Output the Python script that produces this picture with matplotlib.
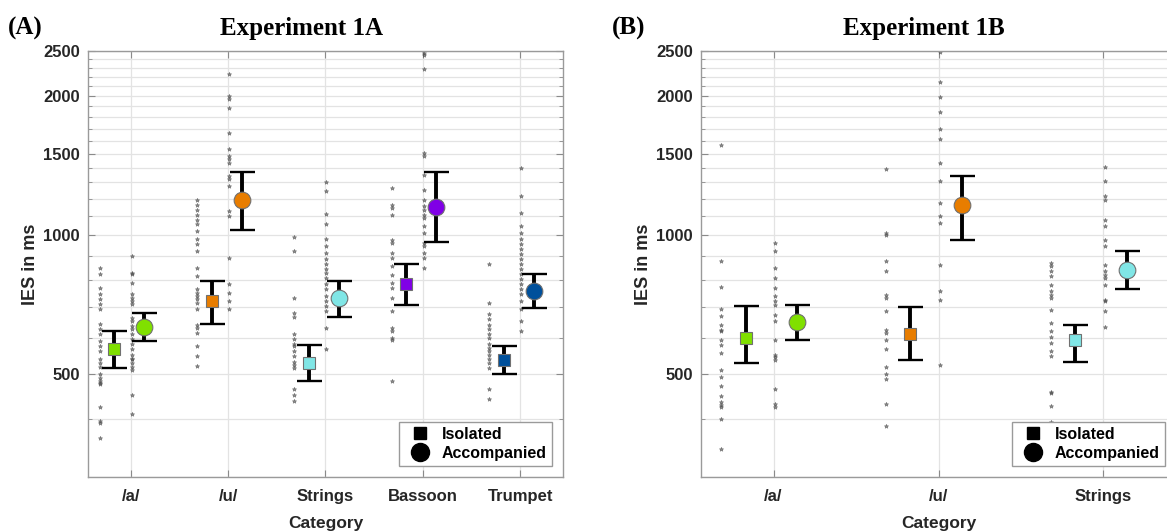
import matplotlib
matplotlib.use("Agg")
import matplotlib.pyplot as plt
from matplotlib.lines import Line2D

SANS = "Liberation Sans"
SERIF = "Liberation Serif"

# Experimento 1A
cats_a = ["/a/", "/u/", "Strings", "Bassoon", "Trumpet"]
colors_a = ["#80e000", "#e87d00", "#80e6e6", "#8000e6", "#00509b"]
iso_mean_a = [566, 720, 528, 783, 536]
iso_lo_a = [515, 644, 483, 708, 500]
iso_hi_a = [620, 795, 578, 865, 575]
acc_mean_a = [632, 1190, 730, 1148, 756]
acc_lo_a = [590, 1025, 667, 966, 695]
acc_hi_a = [678, 1369, 795, 1369, 823]

iso_pts_a = [
    [848, 823, 768, 745, 727, 709, 691, 644, 626, 610, 590, 575, 561, 539, 528,
     520, 502, 490, 483, 478, 476, 426, 396, 392, 364],
    [1190, 1160, 1132, 1105, 1077, 1056, 1020, 980, 956, 923, 848, 815, 764, 748,
     737, 727, 712, 691, 641, 629, 614, 575, 547, 522],
    [990, 923, 730, 678, 667, 610, 595, 583, 575, 561, 547, 533, 525, 515, 464,
     452, 437],
    [1264, 1160, 1144, 1105, 975, 961, 913, 891, 857, 819, 787, 768, 730, 685,
     629, 620, 599, 593, 485],
    [865, 712, 674, 658, 641, 626, 610, 599, 583, 569, 561, 552, 541, 528, 515,
     464, 442],
]
acc_pts_a = [
    [900, 827, 823, 787, 745, 730, 720, 709, 661, 651, 635, 626, 610, 595, 581,
     566, 552, 541, 539, 528, 520, 512, 452, 410],
    [2230, 1999, 1968, 1882, 1662, 1534, 1482, 1460, 1431, 1341, 1322, 1276, 1126,
     1099, 891, 783, 748, 720, 694],
    [1302, 1244, 1110, 1056, 980, 946, 913, 887, 865, 844, 827, 807, 783, 764,
     737, 720, 702, 685, 629, 566],
    [2477, 2450, 2286, 1504, 1482, 1348, 1251, 1190, 1155, 1132, 1105, 1088, 1045,
     1010, 961, 946, 913, 891, 848],
    [1396, 1214, 1116, 1045, 1010, 980, 956, 932, 909, 887, 865, 844, 823, 803,
     783, 764, 745, 720, 691, 651, 620],
]

# Experimento 1B
cats_b = ["/a/", "/u/", "Strings"]
colors_b = ["#80e000", "#e87d00", "#80e6e6"]
iso_mean_b = [600, 612, 592]
iso_lo_b = [528, 536, 533]
iso_hi_b = [703, 700, 640]
acc_mean_b = [650, 1161, 841]
acc_lo_b = [594, 975, 765]
acc_hi_b = [707, 1345, 924]

iso_pts_b = [
    [1569, 880, 773, 693, 669, 640, 625, 622, 594, 580, 557, 510, 493, 473, 450,
     435, 429, 425, 400, 345],
    [1387, 1010, 1000, 880, 837, 743, 732, 686, 625, 615, 592, 566, 518, 500, 488,
     431, 386],
    [871, 858, 837, 817, 781, 758, 743, 732, 690, 647, 622, 601, 586, 563, 549,
     457, 455, 427, 394],
]
acc_pts_b = [
    [961, 924, 849, 808, 769, 739, 721, 707, 673, 653, 594, 552, 544, 538, 464,
     431, 425],
    [2490, 2144, 1990, 1849, 1699, 1617, 1429, 1307, 1172, 1099, 1061, 862, 758,
     725, 525],
    [1401, 1307, 1213, 1189, 1077, 1046, 976, 947, 862, 837, 820, 808, 781, 725,
     721, 686, 634],
]

major_ticks = [500, 1000, 1500, 2000, 2500]
minor_ticks = [v for v in range(300, 2500, 100) if v not in major_ticks]


def panel(ax, cats, colors, iso_m, iso_lo, iso_hi, acc_m, acc_lo, acc_hi, iso_pts, acc_pts):
    n = len(cats)
    pos = list(range(1, n + 1))
    for i in range(n):
        p = pos[i]
        # puntos individuales
        ax.plot([p - 0.32] * len(iso_pts[i]), iso_pts[i], "*", ms=3.2, color="#505050",
                alpha=0.65, mew=0.5, zorder=2)
        ax.plot([p + 0.01] * len(acc_pts[i]), acc_pts[i], "*", ms=3.2, color="#505050",
                alpha=0.65, mew=0.5, zorder=2)
        # medias con barras de error
        ax.errorbar([p - 0.17], [iso_m[i]], yerr=[[iso_m[i] - iso_lo[i]], [iso_hi[i] - iso_m[i]]],
                    fmt="none", ecolor="k", elinewidth=2.8, capsize=9, capthick=1.7, zorder=3)
        ax.errorbar([p + 0.14], [acc_m[i]], yerr=[[acc_m[i] - acc_lo[i]], [acc_hi[i] - acc_m[i]]],
                    fmt="none", ecolor="k", elinewidth=2.8, capsize=9, capthick=1.7, zorder=3)
        ax.plot([p - 0.17], [iso_m[i]], "s", ms=8.8, mfc=colors[i], mec="#707070", mew=0.8, zorder=4)
        ax.plot([p + 0.14], [acc_m[i]], "o", ms=12, mfc=colors[i], mec="#707070", mew=0.8, zorder=4)

    ax.set_yscale("log")
    ax.set_ylim(300, 2500)
    ax.set_xlim(0.56, n + 0.44)
    ax.set_yticks(major_ticks)
    ax.set_yticklabels([str(v) for v in major_ticks])
    ax.set_yticks(minor_ticks, minor=True)
    ax.set_yticklabels([], minor=True)
    ax.set_xticks(pos)
    ax.set_xticklabels(cats)
    ax.grid(True, which="both", axis="y", color="#e3e3e3", lw=0.9)
    ax.grid(True, which="major", axis="x", color="#e3e3e3", lw=0.9)
    ax.set_axisbelow(True)
    for s in ax.spines.values():
        s.set_color("#9a9a9a")
        s.set_linewidth(1.0)
    ax.tick_params(which="both", direction="in", top=True, right=True, color="#8a8a8a")
    ax.tick_params(which="major", length=5, pad=6)
    ax.tick_params(axis="x", which="major", pad=9)
    ax.tick_params(which="minor", length=3)
    for lab in ax.get_xticklabels() + ax.get_yticklabels():
        lab.set_fontfamily(SANS)
        lab.set_fontweight("bold")
        lab.set_fontsize(12)
        lab.set_color("#262626")
    ax.set_xlabel("Category", family=SANS, weight="bold", fontsize=12.5, color="#262626", labelpad=8)
    ax.set_ylabel("IES in ms", family=SANS, weight="bold", fontsize=13, color="#262626", labelpad=3)

    handles = [
        Line2D([], [], ls="none", marker="s", ms=9, color="k"),
        Line2D([], [], ls="none", marker="o", ms=13, color="k"),
    ]
    leg = ax.legend(handles, ["Isolated", "Accompanied"], loc="lower right", fancybox=False,
                    framealpha=1, edgecolor="#9a9a9a", borderpad=0.3, handletextpad=0.4,
                    labelspacing=0.25, borderaxespad=0.7,
                    prop={"family": SANS, "weight": "bold", "size": 11.5})
    leg.get_frame().set_linewidth(1.0)


fig = plt.figure(figsize=(11.67, 5.31), dpi=100)
ax_a = fig.add_axes([0.0754, 0.1017, 0.407, 0.802])
ax_b = fig.add_axes([0.6007, 0.1017, 0.407, 0.802])

panel(ax_a, cats_a, colors_a, iso_mean_a, iso_lo_a, iso_hi_a, acc_mean_a, acc_lo_a, acc_hi_a,
      iso_pts_a, acc_pts_a)
panel(ax_b, cats_b, colors_b, iso_mean_b, iso_lo_b, iso_hi_b, acc_mean_b, acc_lo_b, acc_hi_b,
      iso_pts_b, acc_pts_b)

fig.text(0.007, 0.934, "(A)", family=SERIF, weight="bold", fontsize=18, va="baseline")
fig.text(0.258, 0.934, "Experiment 1A", family=SERIF, weight="bold", fontsize=18,
         va="baseline", ha="center")
fig.text(0.524, 0.934, "(B)", family=SERIF, weight="bold", fontsize=18, va="baseline")
fig.text(0.792, 0.934, "Experiment 1B", family=SERIF, weight="bold", fontsize=18,
         va="baseline", ha="center")

fig.savefig("out.png", dpi=100)
